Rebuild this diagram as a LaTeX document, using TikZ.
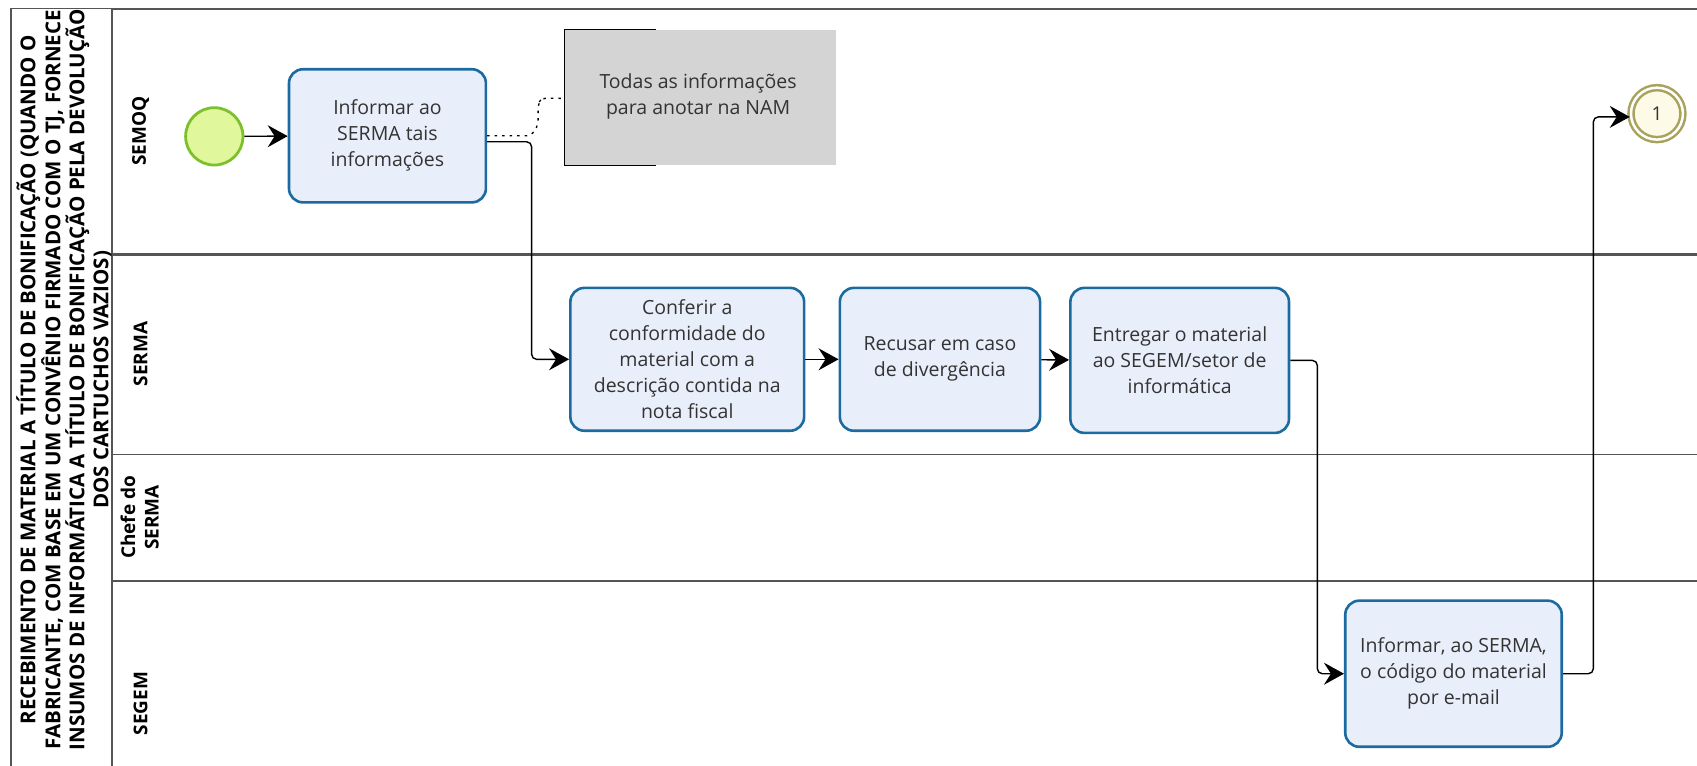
\documentclass[tikz,border=0pt]{standalone}
\usepackage{fontspec}
\setmainfont{Open Sans}
\usetikzlibrary{arrows.meta,calc}
\definecolor{taskfill}{HTML}{E9EEFB}
\definecolor{taskline}{HTML}{1B6BA0}
\definecolor{startfill}{HTML}{E1F79C}
\definecolor{startline}{HTML}{7CC02C}
\definecolor{endfill}{HTML}{FEFAE8}
\definecolor{endline}{HTML}{A7A25C}
\definecolor{annfill}{HTML}{D4D4D4}
\definecolor{txt}{HTML}{333333}
\definecolor{lanegray}{HTML}{555555}
\begin{document}
\begin{tikzpicture}[x=1.0823pt,y=-1.0823pt,
  task/.style={draw=taskline, fill=taskfill, line width=2.6pt, rounded corners=14pt,
    align=center, text=txt, font=\fontsize{19.5}{26}\selectfont, inner sep=0pt},
  flow/.style={draw=black, line width=1.4pt, -{Stealth[length=20pt,width=22pt,inset=7pt]}, rounded corners=5pt},
  assoc/.style={draw=black, line width=1.3pt, dash pattern=on 2.5pt off 5pt, rounded corners=5pt},
  lanelabel/.style={rotate=90, font=\bfseries\fontsize{19}{23.5}\selectfont, text=black, align=center},
  laneline/.style={draw=lanegray, line width=1.5pt}
]
\useasboundingbox (0,0) rectangle (1568,707);
% pool
\draw[laneline, line width=1.5pt] (10,8) rectangle (103.5,720);
\draw[laneline, line width=2.2pt] (103.5,8) -- (1575,8);
\draw[laneline, line width=2.4pt] (103.5,235) -- (1575,235);
\draw[laneline] (103.5,420) -- (1575,420);
\draw[laneline] (103.5,537) -- (1575,537);
\node[rotate=90, align=center, font=\bfseries\fontsize{20.5}{24}\selectfont, text=black] (pool) at (59,351)
 {RECEBIMENTO DE MATERIAL A TÍTULO DE BONIFICAÇÃO (QUANDO O\\
  FABRICANTE, COM BASE EM UM CONVÊNIO FIRMADO COM O TJ, FORNECE\\
  INSUMOS DE INFORMÁTICA A TÍTULO DE BONIFICAÇÃO PELA DEVOLUÇÃO\\
  DOS CARTUCHOS VAZIOS)};
% lane labels
\node[lanelabel] (l1) at (130,121) {SEMOQ};
\node[lanelabel] (l2) at (130,327) {SERMA};
\node[lanelabel] (l3) at (129,478) {Chefe do\\SERMA};
\node[lanelabel] (l4) at (130,650) {SEGEM};
% events
\node[circle, draw=startline, fill=startfill, line width=2.8pt, minimum size={53*1.0823pt}, inner sep=0pt] (start) at (198,126) {};
\node[circle, draw=endline, fill=endfill, line width=2.5pt, double=white, double distance=2.5pt,
  minimum size={48*1.0823pt}, inner sep=0pt, text=txt, font=\fontsize{19}{22}\selectfont] (end) at (1531,105) {1};
% tasks
\node[task, minimum width={182*1.0823pt}, minimum height={123*1.0823pt}] (t1) at (358,125.5)
  {Informar ao\\SERMA tais\\informações};
\node[task, minimum width={216*1.0823pt}, minimum height={132*1.0823pt}] (t2) at (635,332)
  {Conferir a\\conformidade do\\material com a\\descrição contida na\\nota fiscal};
\node[task, minimum width={185*1.0823pt}, minimum height={132*1.0823pt}] (t3) at (868.5,332)
  {Recusar em caso\\de divergência};
\node[task, minimum width={202*1.0823pt}, minimum height={134*1.0823pt}] (t4) at (1090,333)
  {Entregar o material\\ao SEGEM/setor de\\informática};
\node[task, minimum width={200*1.0823pt}, minimum height={135*1.0823pt}] (t5) at (1343,622.5)
  {Informar, ao SERMA,\\o código do material\\por e-mail};
% annotation
\node[fill=annfill, minimum width={250*1.0823pt}, minimum height={125*1.0823pt}, inner sep=0pt] (ann) at (647,90) {};
\node[align=center, text=txt, font=\fontsize{19.5}{26}\selectfont] (anntext) at (645,89) {Todas as informações\\para anotar na NAM};
\draw[black, line width=1.3pt] ($(ann.north west)+(84,0)$) -- (ann.north west) -- (ann.south west) -- ($(ann.south west)+(84,0)$);
% connectors
\draw[flow] (start) -- (t1);
\draw[assoc] ($(t1.east)+(0,0)$) -- ++(41,0) -- ++(6,-10) -- ++(0,-20) -- ++(4,-5) -- ($(ann.west)+(0,1)$);
\draw[flow] ($(t1.east)+(0,5.5)$) -- ++(41,0) |- (t2.west);
\draw[flow] (t2) -- (t3);
\draw[flow] (t3) -- (t4);
\draw[flow] (t4.east) -- ++(25,0) |- (t5.west);
\draw[flow] (t5.east) -- ++(28,0) |- ($(end.west)+(0,3)$);
\end{tikzpicture}
\end{document}
